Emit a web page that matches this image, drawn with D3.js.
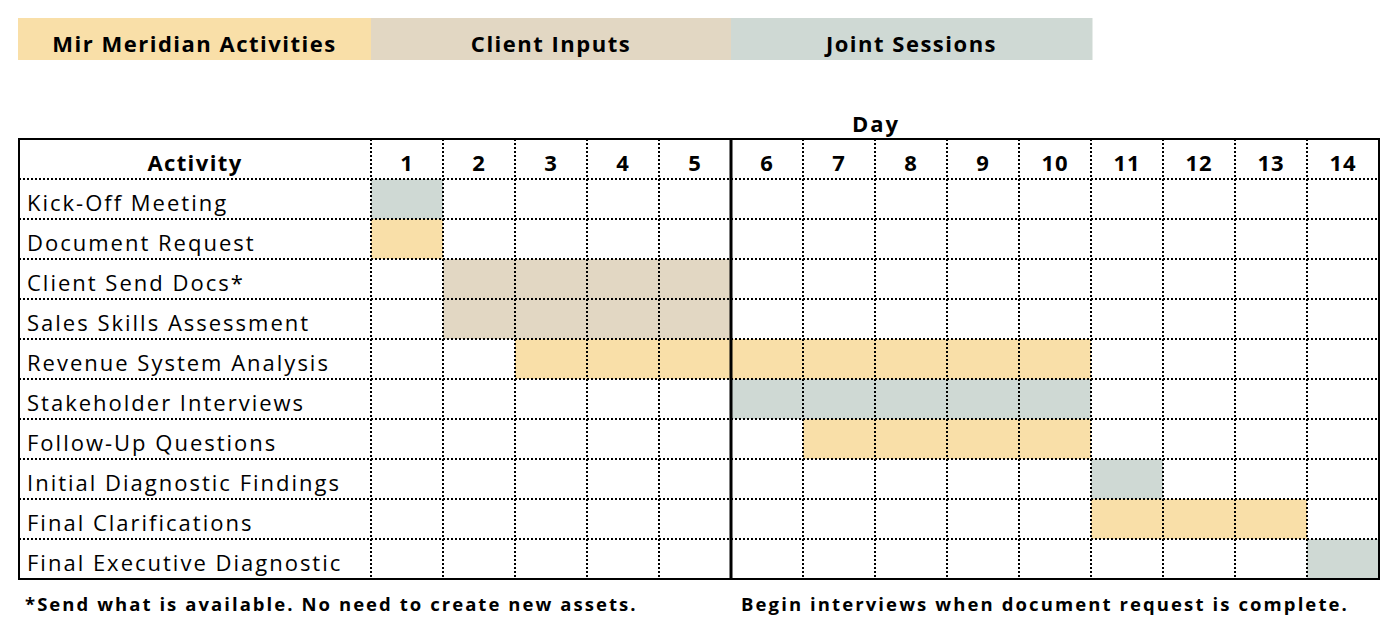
<!DOCTYPE html>
<html><head><meta charset="utf-8">
<script src="https://cdn.jsdelivr.net/npm/d3@7"></script>
<style>body{margin:0;background:#fff}svg{display:block}text{font-family:"Open Sans","Noto Sans",sans-serif;fill:#000}</style>
</head><body><svg id="c" width="1400" height="638"></svg>
<script>
const categories = ["Mir Meridian Activities","Client Inputs","Joint Sessions"];
const categoryColors = ["#f9dfa8","#e2d7c3","#cfd9d4"];
const days = [1,2,3,4,5,6,7,8,9,10,11,12,13,14];
const activities = ["Kick-Off Meeting","Document Request","Client Send Docs*","Sales Skills Assessment","Revenue System Analysis","Stakeholder Interviews","Follow-Up Questions","Initial Diagnostic Findings","Final Clarifications","Final Executive Diagnostic"];
const taskStart = [1,1,2,2,3,6,7,11,11,14];
const taskEnd   = [1,1,5,5,10,10,10,11,13,14];
const taskCategory = [2,0,1,1,0,2,0,2,0,2];
const footnotes = ["*Send what is available. No need to create new assets.","Begin interviews when document request is complete."];

const svg = d3.select("#c");
const L=19, R=1379, actW=352, T=139, headH=40, rowH=40;
const x = d3.scaleBand().domain(days).range([L+actW, R]);
const y = d3.scaleBand().domain(activities).range([T+headH, T+headH+rowH*activities.length]);
const B = y.range()[1];

// legend spans aligned to table columns
const legSpans = [[L-1, x(1)], [x(1), x(6)], [x(6), x(10)+x.bandwidth()+1]];
const lg = svg.append("g");
lg.selectAll("rect").data(categories).join("rect")
  .attr("x",(d,i)=>legSpans[i][0]).attr("y",18).attr("width",(d,i)=>legSpans[i][1]-legSpans[i][0]+0.5).attr("height",42)
  .attr("fill",(d,i)=>categoryColors[i]);
lg.selectAll("text").data(categories).join("text")
  .attr("x",(d,i)=>(legSpans[i][0]+legSpans[i][1])/2).attr("y",52).attr("text-anchor","middle")
  .attr("font-size",22).attr("font-weight",700).attr("letter-spacing",1.5).text(d=>d);

// Day title centered over all day columns
svg.append("text").attr("x",(x.range()[0]+x.range()[1])/2+1).attr("y",132).attr("text-anchor","middle")
  .attr("font-size",22).attr("font-weight",700).attr("letter-spacing",2).text("Day");

// cells
const cells=[];
activities.forEach((a,i)=>{ days.filter(d=>d>=taskStart[i]&&d<=taskEnd[i]).forEach(d=>cells.push({a,d,c:taskCategory[i]})); });
svg.append("g").selectAll("rect").data(cells).join("rect")
  .attr("x",d=>x(d.d)).attr("y",d=>y(d.a)).attr("width",x.bandwidth()).attr("height",y.bandwidth())
  .attr("fill",d=>categoryColors[d.c]);

// grid
const g = svg.append("g").attr("stroke","#000").attr("stroke-width",2).attr("stroke-dasharray","2,2");
g.selectAll("line.h").data(activities).join("line").attr("class","h")
  .attr("x1",L).attr("x2",R).attr("y1",d=>y(d)).attr("y2",d=>y(d));
g.selectAll("line.v").data(days).join("line").attr("class","v")
  .attr("x1",d=>x(d)).attr("x2",d=>x(d)).attr("y1",T).attr("y2",B);

// thick separator between day 5 and 6
svg.append("line").attr("x1",x(6)).attr("x2",x(6)).attr("y1",T).attr("y2",B)
  .attr("stroke","#000").attr("stroke-width",3);
// border
svg.append("rect").attr("x",L).attr("y",T).attr("width",R-L).attr("height",B-T)
  .attr("fill","none").attr("stroke","#000").attr("stroke-width",2);

// header
svg.append("text").attr("x",L+actW/2).attr("y",T+headH/2+12).attr("text-anchor","middle")
  .attr("font-size",22).attr("font-weight",700).attr("letter-spacing",1.4).text("Activity");
svg.append("g").selectAll("text").data(days).join("text")
  .attr("x",d=>x(d)+x.bandwidth()/2).attr("y",T+headH/2+12).attr("text-anchor","middle")
  .attr("font-size",22).attr("font-weight",700).attr("letter-spacing",1).text(d=>d);

// activity labels
svg.append("g").selectAll("text").data(activities).join("text")
  .attr("x",L+8).attr("y",d=>y(d)+y.bandwidth()/2+12).attr("font-size",22).attr("letter-spacing",2).text(d=>d);

// footnotes
svg.append("text").attr("x",25).attr("y",611).attr("font-size",18.5).attr("font-weight",700).attr("letter-spacing",2.05).text(footnotes[0]);
svg.append("text").attr("x",1045).attr("y",611).attr("text-anchor","middle").attr("font-size",18.5).attr("font-weight",700).attr("letter-spacing",2.1).text(footnotes[1]);
</script></body></html>
